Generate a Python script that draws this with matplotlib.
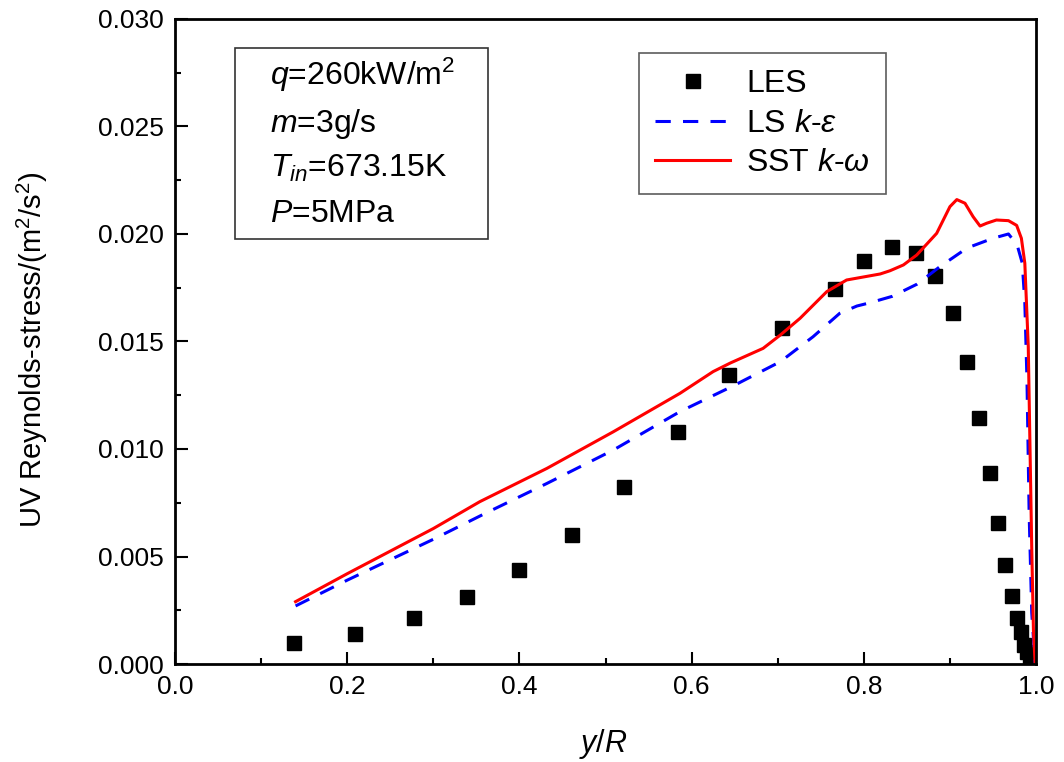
import matplotlib
matplotlib.use("Agg")
import matplotlib.pyplot as plt
from matplotlib.patches import Rectangle

plt.rcParams['font.family'] = ['Liberation Sans', 'DejaVu Sans']
plt.rcParams['mathtext.fontset'] = 'custom'
plt.rcParams['mathtext.rm'] = 'Liberation Sans'
plt.rcParams['mathtext.it'] = 'Liberation Sans:italic'
plt.rcParams['mathtext.default'] = 'regular'

# LES data
les_x = [0.138, 0.209, 0.278, 0.339, 0.400, 0.461, 0.521, 0.584, 0.643, 0.705,
         0.767, 0.800, 0.833, 0.861, 0.883, 0.904, 0.920, 0.934, 0.946, 0.956,
         0.964, 0.972, 0.978, 0.983, 0.986, 0.990, 0.993]
les_y = [0.00098, 0.0014, 0.00214, 0.00312, 0.00437, 0.0060, 0.00823, 0.01079,
         0.01344, 0.01565, 0.01744, 0.01874, 0.0194, 0.0191, 0.01805, 0.01633,
         0.01405, 0.01144, 0.00888, 0.00656, 0.0046, 0.00316, 0.00214, 0.0015,
         0.0009, 0.00056, 0.0002]

# LS k-epsilon
ls_x = [0.14, 0.2, 0.3, 0.36, 0.432, 0.509, 0.5865, 0.648, 0.703, 0.741, 0.772,
        0.792, 0.807, 0.833, 0.862, 0.888, 0.92, 0.95, 0.968, 0.978, 0.984,
        0.987, 0.9895, 0.992, 0.995, 0.999]
ls_y = [0.0027, 0.0039, 0.0058, 0.0070, 0.0084, 0.00995, 0.01174, 0.01293,
        0.01406, 0.01522, 0.01631, 0.01665, 0.0168, 0.0171, 0.01767, 0.01847,
        0.01935, 0.0198, 0.0200, 0.0195, 0.01865, 0.0168, 0.0132, 0.0070,
        0.0024, 0.0]

# SST k-omega
sst_x = [0.14, 0.2, 0.3, 0.354, 0.432, 0.509, 0.5865, 0.625, 0.645, 0.683,
         0.703, 0.726, 0.757, 0.78, 0.819, 0.8304, 0.846, 0.8614, 0.8846, 0.900,
         0.908, 0.9175, 0.927, 0.935, 0.9427, 0.954, 0.968, 0.9775, 0.983,
         0.987, 0.991, 0.993, 0.995, 0.997, 0.999]
sst_y = [0.0029, 0.0042, 0.0063, 0.00755, 0.0091, 0.0108, 0.01259, 0.0136,
         0.0140, 0.01468, 0.0153, 0.01608, 0.01732, 0.01786, 0.01814, 0.01829,
         0.01856, 0.01902, 0.02003, 0.02127, 0.0216, 0.02143, 0.0208, 0.02037,
         0.0205, 0.02065, 0.02062, 0.0204, 0.0198, 0.01864, 0.01476, 0.0101,
         0.00546, 0.00158, 0.0]

info_lines = [r'$\mathit{q}$=260kW/m$^2$', r'$\mathit{m}$=3g/s',
              r'$\mathit{T}_{\mathit{in}}$=673.15K', r'$\mathit{P}$=5MPa']

fig = plt.figure(figsize=(10.64, 7.62), dpi=100)
ax = fig.add_axes([0.1645, 0.1286, 0.8092, 0.8465])

ax.plot(les_x, les_y, linestyle='none', marker='s', markersize=9.5,
        color='black', label='LES')
ax.plot(ls_x, ls_y, color='#0000ff', lw=2.2, dashes=[5.0, 4.0],
        label=r'LS $\mathit{k}$-$\mathit{\varepsilon}$')
ax.plot(sst_x, sst_y, color='#ff0000', lw=2.2,
        label=r'SST $\mathit{k}$-$\mathit{\omega}$')

ax.set_xlim(0, 1.0)
ax.set_ylim(0, 0.030)
ax.set_xticks([0.0, 0.2, 0.4, 0.6, 0.8, 1.0])
ax.set_xticks([0.1, 0.3, 0.5, 0.7, 0.9], minor=True)
ax.set_yticks([0.0, 0.005, 0.010, 0.015, 0.020, 0.025, 0.030])
ax.set_yticks([0.0025, 0.0075, 0.0125, 0.0175, 0.0225, 0.0275], minor=True)
ax.set_xticklabels(['0.0', '0.2', '0.4', '0.6', '0.8', '1.0'])
ax.set_yticklabels(['0.000', '0.005', '0.010', '0.015', '0.020', '0.025', '0.030'])
ax.tick_params(which='major', direction='in', length=9, width=1.5,
               labelsize=19, pad=8, top=False, right=False)
ax.tick_params(which='minor', direction='in', length=4.5, width=1.5,
               top=False, right=False)
for s in ax.spines.values():
    s.set_linewidth(2.0)

ax.set_xlabel(r'$\mathit{y}$/$\mathit{R}$', fontsize=22)
ax.xaxis.set_label_coords(0.497, -0.097)
ax.set_ylabel(r'UV Reynolds-stress/(m$^2$/s$^2$)', fontsize=21)
ax.yaxis.set_label_coords(-0.145, 0.487)

# info box
ax.add_patch(Rectangle((0.0697, 0.659), 0.2938, 0.296, transform=ax.transAxes,
                       fill=False, edgecolor='#333333', lw=1.2))
info_y = [0.898, 0.825, 0.755, 0.685]
for t, yy in zip(info_lines, info_y):
    ax.text(0.110, yy, t, transform=ax.transAxes, fontsize=23,
            va='baseline', ha='left')

leg = ax.legend(loc='upper left', bbox_to_anchor=(0.539, 0.947), fontsize=23,
                frameon=True, fancybox=False, edgecolor='#333333',
                handlelength=2.35, handletextpad=0.5, borderpad=0.5,
                labelspacing=0.3, borderaxespad=0)
leg.get_frame().set_linewidth(1.2)

fig.savefig('out.png', dpi=100)
